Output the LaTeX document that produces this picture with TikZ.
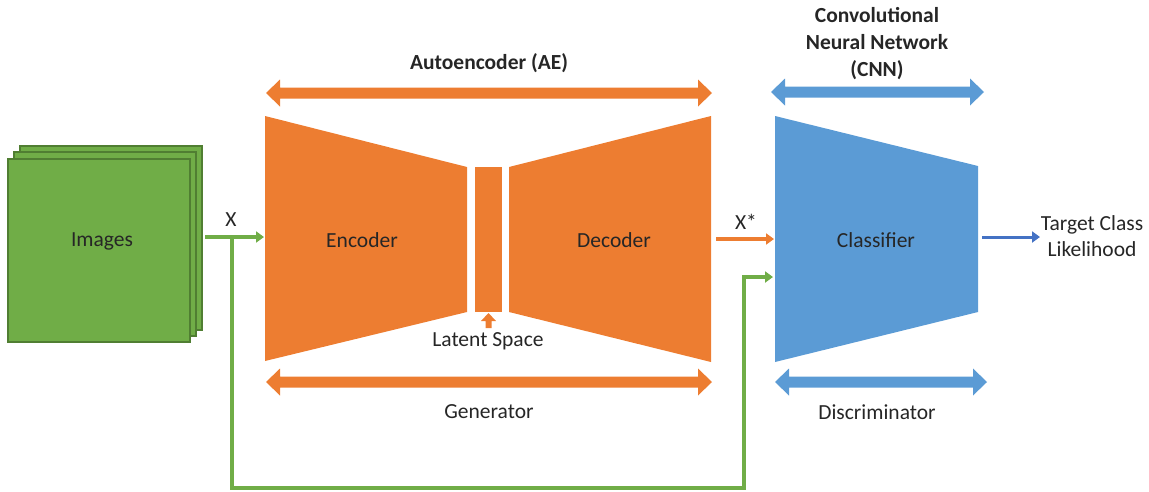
\documentclass[tikz,border=0pt]{standalone}
\usepackage{fontspec}
\setmainfont{Carlito}
\usetikzlibrary{arrows.meta}
\definecolor{aeorange}{HTML}{ED7D31}
\definecolor{cnnblue}{HTML}{5B9BD5}
\definecolor{imggreen}{HTML}{70AD47}
\definecolor{imgedge}{HTML}{507E32}
\definecolor{outblue}{HTML}{4472C4}
\definecolor{txt}{HTML}{262626}
\newcommand\dblarrowshape[4]{% colour, x left, x right, y
  \fill[#1] (#2,#4) -- (#2+14,#4-13.5) -- (#2+14,#4-5.5) -- (#3-14,#4-5.5) -- (#3-14,#4-13.5) -- (#3,#4)
    -- (#3-14,#4+13.5) -- (#3-14,#4+5.5) -- (#2+14,#4+5.5) -- (#2+14,#4+13.5) -- cycle;}
\begin{document}
\begin{tikzpicture}[x=1pt,y=-1pt,
  lbl/.style={font=\fontsize{21.5}{26}\selectfont, text=txt, inner sep=0pt, align=center},
  blbl/.style={font=\fontsize{21.5}{27}\selectfont\bfseries, text=txt, inner sep=0pt, align=center},
  imgsq/.style={fill=imggreen, draw=imgedge, line width=1.2pt},
  flow/.style={line width=3.5pt, -{Triangle[length=8pt,width=11pt]}},
  ]
\useasboundingbox (0,0) rectangle (1149,491);

% image stack
\draw[imgsq] (20,146) rectangle (202,330);
\draw[imgsq] (14,152) rectangle (196,336);
\draw[imgsq] (8,159) rectangle (190,342);
\node[lbl] (images) at (102,241) {Images};
\coordinate (imgout) at (205,237);

% encoder / latent / decoder
\fill[aeorange] (265,116) -- (467,167) -- (467,312) -- (265,361) -- cycle;
\fill[aeorange] (475,167) rectangle (502,312);
\fill[aeorange] (509,167) -- (711,116) -- (711,362) -- (509,312) -- cycle;
\node[lbl] (enc) at (362,240) {Encoder};
\node[lbl] (dec) at (614,240) {Decoder};
\coordinate (encin) at (264,237);
\coordinate (decout) at (716,239);
\fill[aeorange] (485.5,328) -- (485.5,321) -- (481,321) -- (488.5,313) -- (496,321) -- (491.5,321) -- (491.5,328) -- cycle;
\node[lbl] (latent) at (488,341) {Latent Space};

% classifier
\fill[cnnblue] (775,116) -- (978,166) -- (978,312) -- (775,362) -- cycle;
\node[lbl] (cls) at (876,240) {Classifier};
\coordinate (clsin) at (774,239);
\coordinate (clsin2) at (773,277);
\coordinate (clsout) at (982,237);
\coordinate (tgtin) at (1040,237);
\node[lbl] (tgt) at (1092,236) {Target Class\\Likelihood};

% flows
\draw[flow, imggreen] (imgout) -- (encin);
\node[lbl] (xlab) at (231,220) {X};
\draw[flow, aeorange] (decout) -- (clsin);
\node[lbl] (xslab) at (746,222) {X*};
\draw[flow, outblue, line width=3pt] (clsout) -- (tgtin);
\coordinate (split) at (232,237);
\draw[imggreen, line width=3.5pt, -{Triangle[length=8pt,width=11pt]}]
  (split) -- (232,488) -- (744,488) -- (744,277) -- (clsin2);

% span arrows
\dblarrowshape{aeorange}{266}{712}{93}
\node[blbl] (ae) at (489,63) {Autoencoder (AE)};
\dblarrowshape{cnnblue}{771}{984}{92}
\node[blbl] (cnn) at (877,44) {Convolutional\\Neural Network\\(CNN)};
\dblarrowshape{aeorange}{266}{712}{382}
\node[lbl] (gen) at (489,412) {Generator};
\dblarrowshape{cnnblue}{775}{987}{382}
\node[lbl] (disc) at (877,412) {Discriminator};
\end{tikzpicture}
\end{document}
